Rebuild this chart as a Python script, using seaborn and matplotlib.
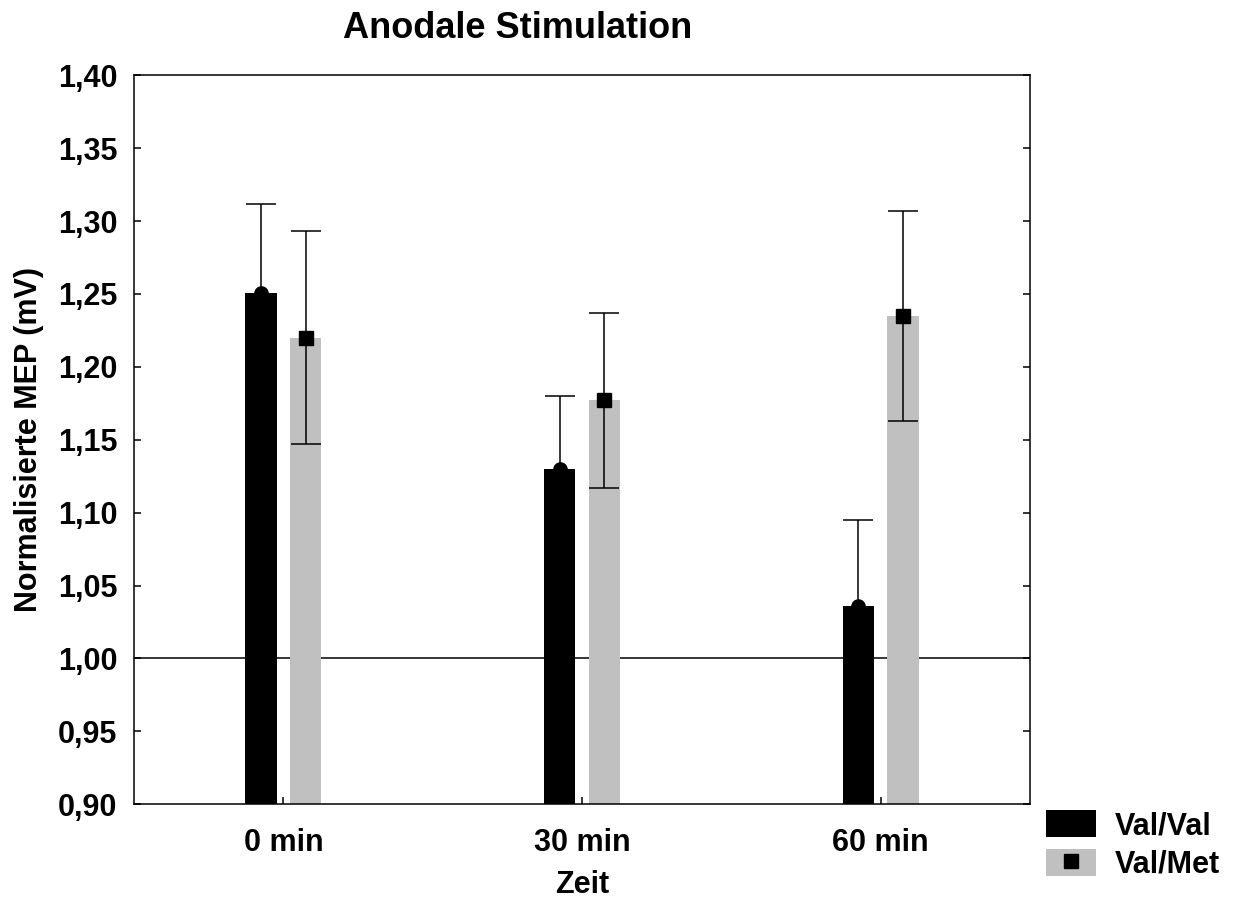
import matplotlib
matplotlib.use("Agg")
import matplotlib.pyplot as plt
import seaborn as sns
import pandas as pd
from matplotlib.patches import Patch
from matplotlib.lines import Line2D

# ---- data ----
times = ["0 min", "30 min", "60 min"]
groups = ["Val/Val", "Val/Met"]
valval_mean = [1.251, 1.130, 1.036]
valval_err = [0.061, 0.050, 0.059]
valmet_mean = [1.220, 1.177, 1.235]
valmet_err = [0.073, 0.060, 0.072]
y_ticks = [0.90, 0.95, 1.00, 1.05, 1.10, 1.15, 1.20, 1.25, 1.30, 1.35, 1.40]
y_ticklabels = ["0,90", "0,95", "1,00", "1,05", "1,10", "1,15", "1,20",
                "1,25", "1,30", "1,35", "1,40"]
title = "Anodale Stimulation"
xlabel = "Zeit"
ylabel = "Normalisierte MEP (mV)"
reference_level = 1.0

colors = {"Val/Val": "#000000", "Val/Met": "#c0c0c0"}
markers = {"Val/Val": "o", "Val/Met": "s"}

sns.set_style("ticks")
plt.rcParams["font.family"] = ["Liberation Sans", "DejaVu Sans"]
plt.rcParams["font.weight"] = "bold"
plt.rcParams["text.color"] = "black"
plt.rcParams["axes.labelcolor"] = "black"
plt.rcParams["xtick.color"] = "black"
plt.rcParams["ytick.color"] = "black"

df = pd.DataFrame({
    "Zeit": times * 2,
    "Gruppe": [groups[0]] * len(times) + [groups[1]] * len(times),
    "MEP": valval_mean + valmet_mean,
    "err": valval_err + valmet_err,
})

fig = plt.figure(figsize=(12.36, 8.99), dpi=100)
ax = fig.add_axes([134 / 1236, 1 - 804.3 / 899, (1030 - 134) / 1236, (804.3 - 75.3) / 899])

sns.barplot(data=df, x="Zeit", y="MEP", hue="Gruppe", order=times,
            hue_order=groups, palette=colors, width=0.3, gap=0.3,
            errorbar=None, linewidth=0, legend=False, ax=ax, zorder=1)

ax.axhline(reference_level, color="black", lw=1.1, zorder=0.9)

for container, g in zip(ax.containers, groups):
    sub = df[df["Gruppe"] == g].set_index("Zeit").loc[times]
    for bar, m, e in zip(container, sub["MEP"], sub["err"]):
        x = bar.get_x() + bar.get_width() / 2
        ax.errorbar(x, m, yerr=e, fmt="none", ecolor="black", elinewidth=1.1,
                    capsize=11, capthick=1.1, zorder=3)
        ax.plot(x, m, marker=markers[g], color="black", markersize=9.5,
                linestyle="none", zorder=4)

ax.set_xlim(-0.5, 2.5)
ax.set_ylim(0.90, 1.40)
ax.set_yticks(y_ticks)
ax.set_yticklabels(y_ticklabels, fontsize=22, fontweight="bold", color="black")
ax.set_xticks(range(len(times)))
ax.set_xticklabels(times, fontsize=22, fontweight="bold", color="black")

for s in ax.spines.values():
    s.set_visible(True)
    s.set_color("black")
    s.set_linewidth(1.1)

ax.tick_params(axis="y", direction="in", left=True, right=True, length=5,
               width=1.1, pad=12, colors="black")
ax.tick_params(axis="x", direction="in", bottom=True, top=False, length=5,
               width=1.1, pad=17, colors="black")

ax.set_xlabel(xlabel, fontsize=22, fontweight="bold", labelpad=9, color="black")
ax.set_ylabel(ylabel, fontsize=22, fontweight="bold", labelpad=10, color="black")

fig.text(517.5 / 1236, 1 - 29 / 899, title, ha="center", va="center",
         fontsize=26, fontweight="bold", color="black")

handles = [
    Patch(facecolor=colors["Val/Val"], edgecolor="none"),
    (Patch(facecolor=colors["Val/Met"], edgecolor="none"),
     Line2D([], [], marker=markers["Val/Met"], color="black",
            linestyle="none", markersize=9.5)),
]
fig.legend(handles, groups, loc="upper left",
           bbox_to_anchor=(1046 / 1236, 1 - 810 / 899),
           frameon=False, prop={"size": 22, "weight": "bold"},
           labelcolor="black",
           handlelength=1.65, handleheight=1.0, handletextpad=0.6,
           labelspacing=0.25, borderpad=0, borderaxespad=0)

fig.savefig("out.png", dpi=100)
